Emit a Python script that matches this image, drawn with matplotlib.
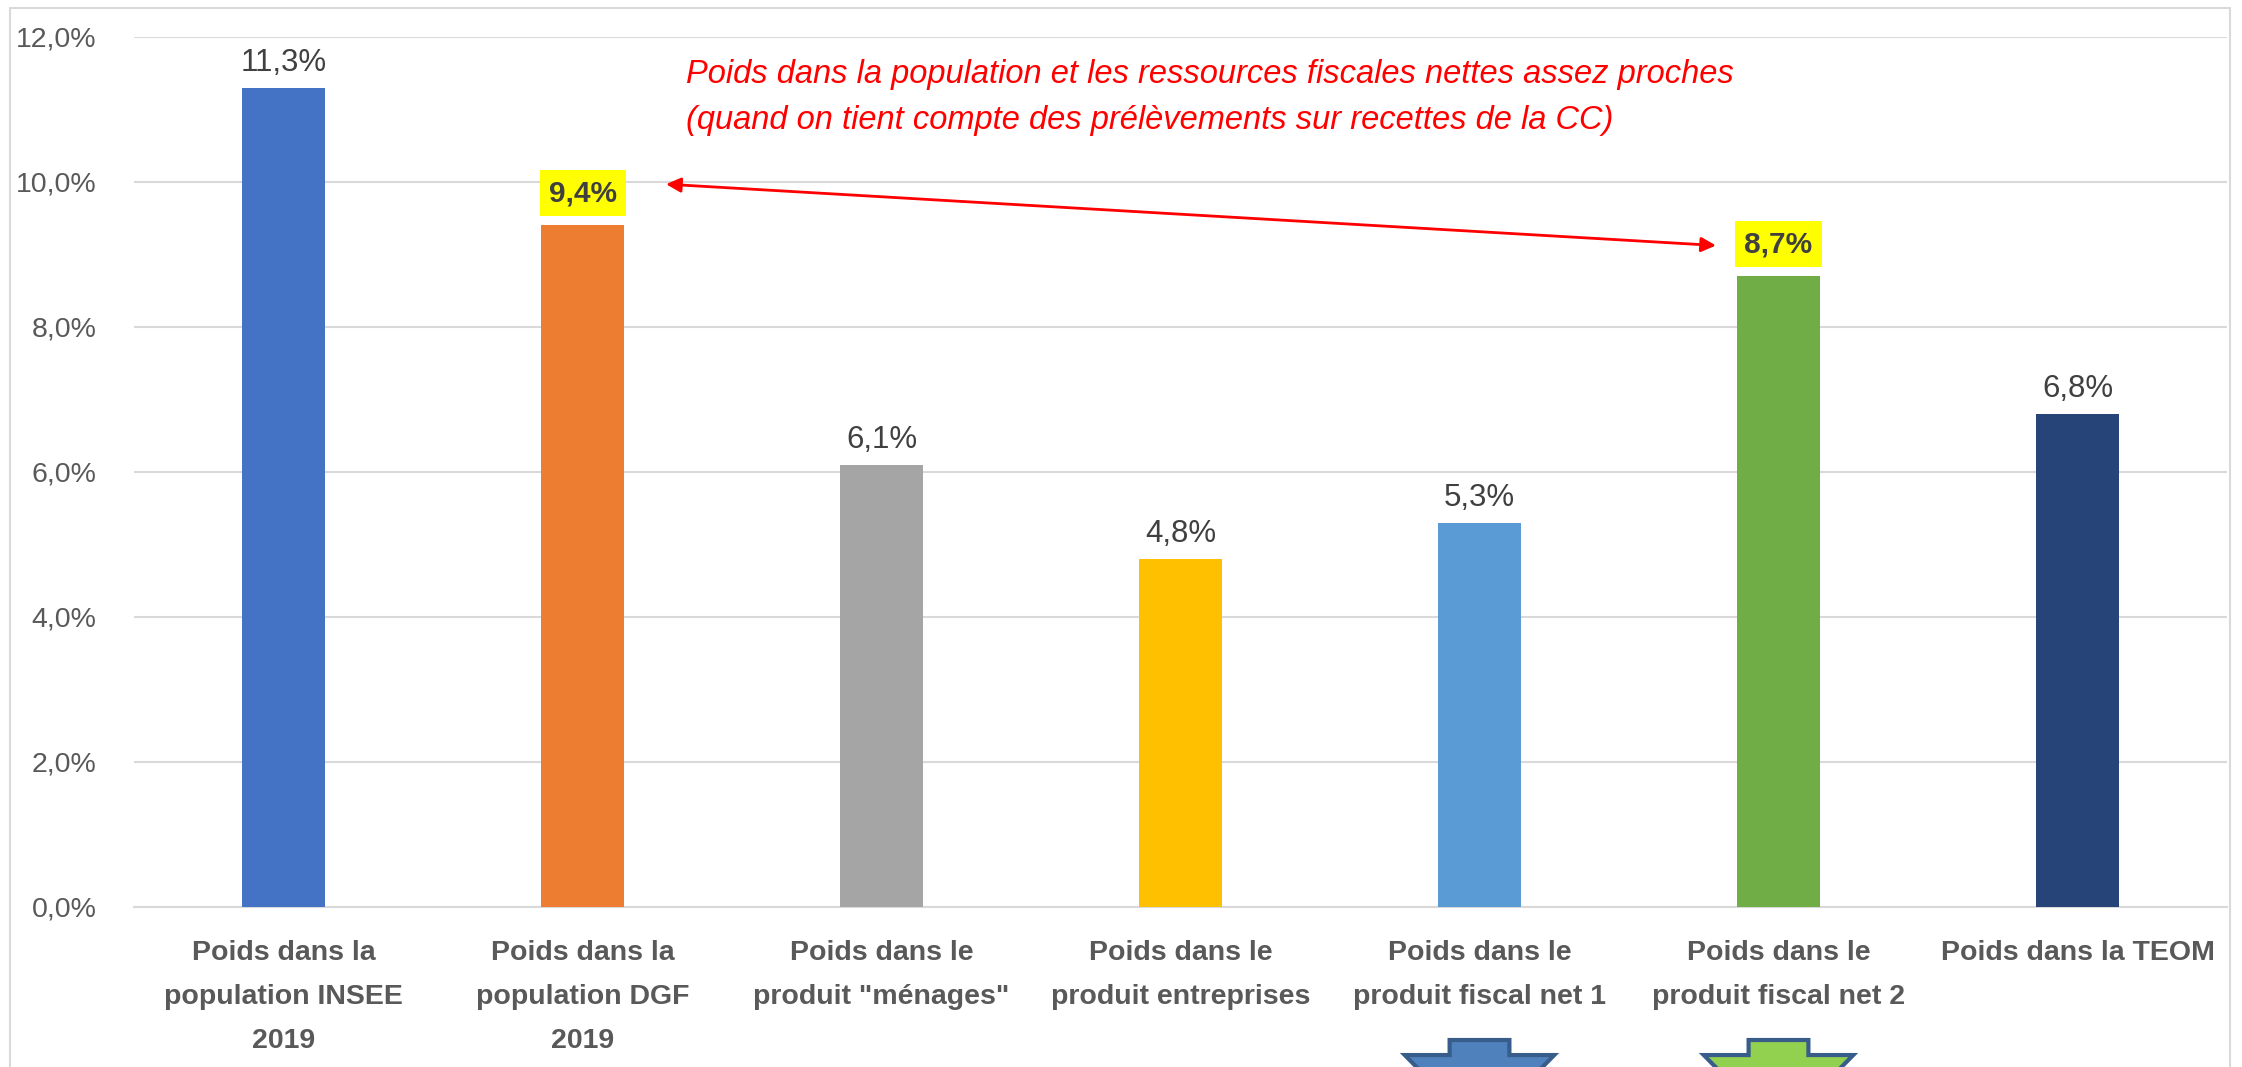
import matplotlib.pyplot as plt
from matplotlib.patches import Polygon, Rectangle
from matplotlib.transforms import blended_transform_factory

categories = [
    "Poids dans la\npopulation INSEE\n2019",
    "Poids dans la\npopulation DGF\n2019",
    "Poids dans le\nproduit \"ménages\"",
    "Poids dans le\nproduit entreprises",
    "Poids dans le\nproduit fiscal net 1",
    "Poids dans le\nproduit fiscal net 2",
    "Poids dans la TEOM",
]
values = [11.3, 9.4, 6.1, 4.8, 5.3, 8.7, 6.8]
colors = ["#4472C4", "#ED7D31", "#A5A5A5", "#FFC000", "#5B9BD5", "#70AD47", "#264478"]
highlighted = [1, 5]
yticks = [0, 2, 4, 6, 8, 10, 12]
note = ("Poids dans la population et les ressources fiscales nettes assez proches\n"
        "(quand on tient compte des prélèvements sur recettes de la CC)")

FONT = ["Liberation Sans", "DejaVu Sans"]
TXT = "#595959"


def fr(v):
    return f"{v:.1f}%".replace(".", ",")


fig = plt.figure(figsize=(22.42, 10.67), dpi=100)
ax = fig.add_axes([0.0598, 0.15, 0.9335, 0.8155])

x = list(range(len(values)))
ax.bar(x, values, width=0.28, color=colors, zorder=3)

ax.set_xlim(-0.5, len(values) - 0.5)
ax.set_ylim(0, 12)
ax.set_yticks(yticks)
ax.set_yticklabels([fr(t) for t in yticks], family=FONT, fontsize=20.5, color=TXT)
ax.yaxis.grid(True, color="#D9D9D9", linewidth=1.5, zorder=0)
ax.tick_params(axis="y", length=0, pad=27)
ax.tick_params(axis="x", length=0, pad=24)
ax.set_xticks(x)
ax.set_xticklabels(categories, family=FONT, fontsize=20.5, fontweight="bold",
                   color=TXT, linespacing=1.9)
for s in ["top", "left", "right"]:
    ax.spines[s].set_visible(False)
ax.spines["bottom"].set_color("#D9D9D9")
ax.spines["bottom"].set_linewidth(1.5)

for i, v in enumerate(values):
    if i in highlighted:
        ax.annotate(fr(v), (i, v), xytext=(0, 23), textcoords="offset points",
                    ha="center", va="center", family=FONT, fontsize=21.5,
                    fontweight="bold", color="#404040",
                    bbox=dict(boxstyle="square,pad=0.3", fc="#FFFF00", ec="none"))
    else:
        ax.annotate(fr(v), (i, v), xytext=(0, 18), textcoords="offset points",
                    ha="center", va="center", family=FONT, fontsize=22.5, color="#404040")

# double arrow between the two highlighted labels
a, b = highlighted
ax.annotate("", xy=(a + 0.27, values[a] + 0.57), xytext=(b - 0.2, values[b] + 0.42),
            arrowprops=dict(arrowstyle="<|-|>", color="red", lw=2,
                            mutation_scale=22), zorder=5)

fig.text(0.306, 0.945, note, ha="left", va="top", color="red", style="italic",
         family=FONT, fontsize=23.5, linespacing=1.65)

# block arrows below the two fiscal product labels
tr = blended_transform_factory(ax.transData, fig.transFigure)
for i, fc in [(4, "#4F81BD"), (5, "#92D050")]:
    pts = [(i - 0.1, 0.0253), (i + 0.1, 0.0253), (i + 0.1, 0.0112), (i + 0.25, 0.0112),
           (i, -0.06), (i - 0.25, 0.0112), (i - 0.1, 0.0112)]
    fig.patches.append(Polygon(pts, closed=True, transform=tr, fc=fc,
                               ec="#385D8A", lw=3, clip_on=False))

fig.patches.append(Rectangle((0.0045, -0.01), 0.99, 1.0025, transform=fig.transFigure,
                             fill=False, ec="#D9D9D9", lw=1.5))

fig.savefig("out.png", dpi=100, facecolor="white")
